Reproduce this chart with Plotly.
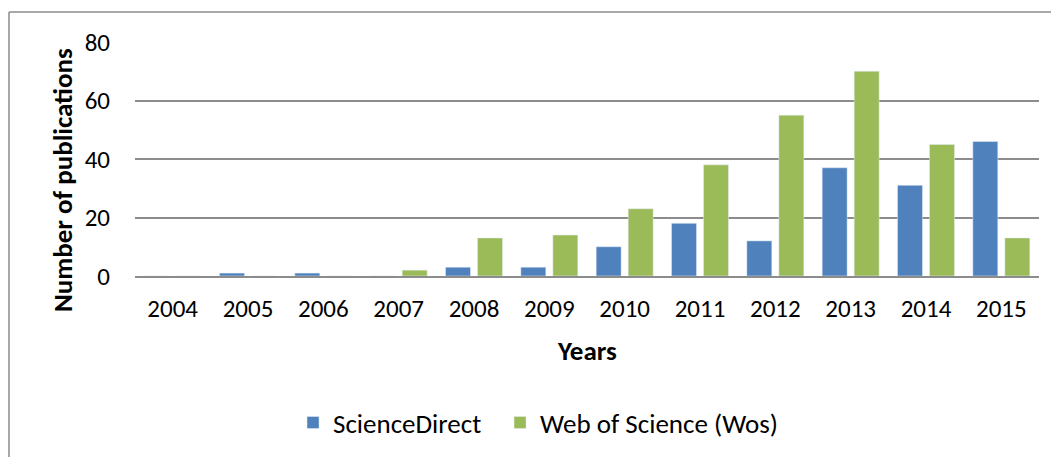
import plotly.graph_objects as go

years = ["2004", "2005", "2006", "2007", "2008", "2009", "2010", "2011", "2012", "2013", "2014", "2015"]
science_direct = [0, 1, 1, 0, 3, 3, 10, 18, 12, 37, 31, 46]
web_of_science = [0, 0, 0, 2, 13, 14, 23, 38, 55, 70, 45, 13]
y_ticks = [0, 20, 40, 60, 80]

FONT = "Carlito, Calibri, Lato, sans-serif"
FS = 25

fig = go.Figure()
fig.add_trace(go.Bar(x=years, y=science_direct, name="ScienceDirect", marker_color="#4F81BD",
                     legend="legend"))
fig.add_trace(go.Bar(x=years, y=web_of_science, name="Web of Science (Wos)", marker_color="#9BBB59",
                     legend="legend2"))

legend_common = dict(orientation="h", xanchor="left", y=-0.628, yanchor="middle",
                     font=dict(size=27), itemclick=False, bgcolor="rgba(0,0,0,0)")

fig.update_layout(
    width=1059, height=457,
    margin=dict(l=127, r=28, t=34, b=189),
    plot_bgcolor="white", paper_bgcolor="white",
    barmode="group", bargap=0.15, bargroupgap=0.22,
    font=dict(family=FONT, size=FS, color="#000000"),
    showlegend=True,
    legend=dict(x=0.1748, **legend_common),
    legend2=dict(x=0.4038, **legend_common),
    xaxis=dict(type="category", showgrid=False, showline=True, linecolor="#8c8c8c", linewidth=2,
               ticks="outside", ticklen=9, tickcolor="rgba(0,0,0,0)", tickfont=dict(size=FS)),
    yaxis=dict(range=[0, 80], tickvals=y_ticks, showgrid=True, gridcolor="#8c8c8c", gridwidth=2,
               zeroline=False, showline=False, ticks="", ticklabelstandoff=24, tickfont=dict(size=FS)),
)

fig.add_annotation(text="<b>Years</b>", xref="paper", yref="paper", x=0.5, y=-0.32,
                   xanchor="center", yanchor="middle", showarrow=False, font=dict(size=27))
fig.add_annotation(text="<b>Number of publications</b>", xref="paper", x=-0.0808, yref="paper", y=0.41,
                   textangle=-90, xanchor="center", yanchor="middle", showarrow=False, font=dict(size=27))

# chart-area border (top and left edges visible)
fig.add_shape(type="line", xref="paper", yref="paper", x0=-0.1394, x1=1.05, y0=1.128, y1=1.128,
              line=dict(color="#8c8c8c", width=1.5))
fig.add_shape(type="line", xref="paper", yref="paper", x0=-0.1394, x1=-0.1394, y0=1.128, y1=-0.9,
              line=dict(color="#8c8c8c", width=1.5))

fig.write_html("out.html")
